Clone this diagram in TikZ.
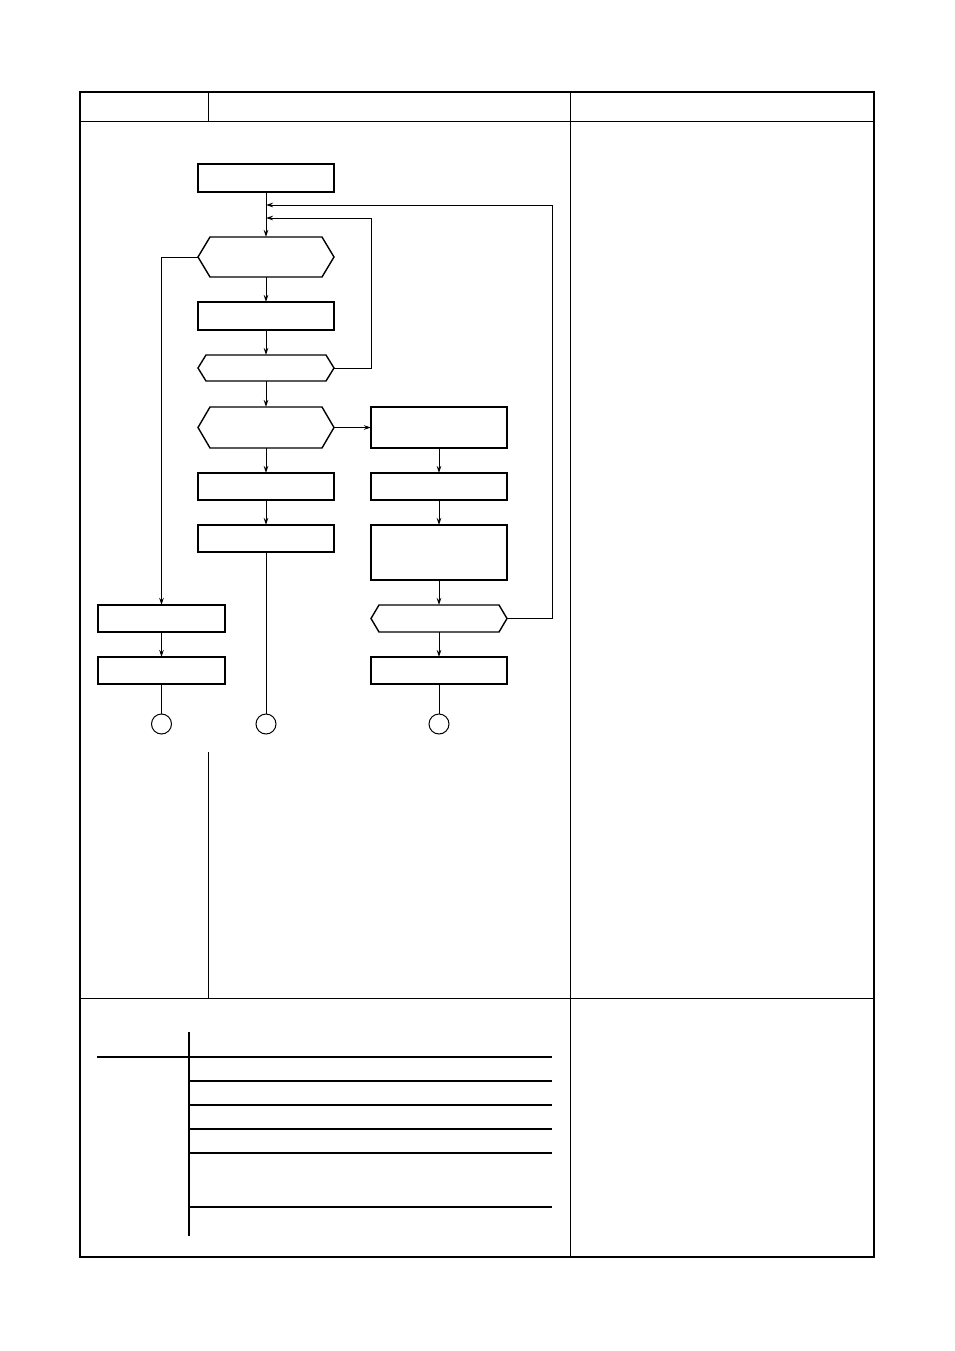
\documentclass[tikz,border=0pt]{standalone}
\usetikzlibrary{arrows.meta}
\tikzset{
  box/.style = {draw, line width=1.4pt, minimum width=136pt, minimum height=28pt, inner sep=0pt, outer sep=0pt},
  hexa/.style = {minimum width=136pt, minimum height=#1, inner sep=0pt, outer sep=0pt},
  term/.style = {draw, circle, line width=1pt, minimum size=20pt, inner sep=0pt},
  flow/.style = {line width=1pt, -{Stealth[length=7pt,width=4.5pt]}}
}
\newcommand{\hexline}[2]{\draw[line width=1.4pt] (#1.west) -- ([xshift=#2]#1.north west)
  -- ([xshift=-#2]#1.north east) -- (#1.east) -- ([xshift=-#2]#1.south east)
  -- ([xshift=#2]#1.south west) -- cycle;}
\begin{document}
\begin{tikzpicture}[x=1pt, y=-1pt]
\useasboundingbox (0,0) rectangle (954,1351);
% frame
\draw[line width=2.2pt] (80,92) rectangle (874,1257);
\draw[line width=1pt] (80,122) -- (874,122);
\draw[line width=1pt] (208,92) -- (208,122);
\draw[line width=1pt] (570,92) -- (570,1257);
\draw[line width=1pt] (80,998) -- (874,998);
\draw[line width=1pt] (208,752) -- (208,998);
% flow chart
\node[box] (start) at (266,178) {};
\node[hexa=40pt] (h1) at (266,257) {};
\node[box] (b2) at (266,316) {};
\node[hexa=26pt] (h2) at (266,368) {};
\node[hexa=41pt] (h3) at (266,427.5) {};
\node[box, minimum height=41pt] (r1) at (439,427.5) {};
\node[box, minimum height=27pt] (b3) at (266,486.5) {};
\node[box, minimum height=27pt] (b4) at (266,538.5) {};
\node[box, minimum height=27pt] (r2) at (439,486.5) {};
\node[box, minimum height=55pt] (r3) at (439,552.5) {};
\node[hexa=27pt] (h4) at (439,618.5) {};
\node[box, minimum height=27pt] (r4) at (439,670.5) {};
\node[box, minimum width=127pt, minimum height=27pt] (l1) at (161.5,618.5) {};
\node[box, minimum width=127pt, minimum height=27pt] (l2) at (161.5,670.5) {};
\node[term] (c1) at (161.5,724) {};
\node[term] (c2) at (266,724) {};
\node[term] (c3) at (439,724) {};
\hexline{h1}{12pt}
\hexline{h2}{8pt}
\hexline{h3}{12pt}
\hexline{h4}{8pt}
\coordinate (m1) at (266,205);
\coordinate (m2) at (266,218);
\coordinate (rail1) at (371,218);
\coordinate (rail2) at (552,205);
\draw[line width=1pt] (start) -- (m1);
\draw[flow] (m1) -- (h1);
\draw[flow] (h1) -- (b2);
\draw[flow] (b2) -- (h2);
\draw[flow] (h2) -- (h3);
\draw[flow] (h2.east) -| (rail1) -- (m2);
\draw[flow] (h3) -- (r1);
\draw[flow] (h3) -- (b3);
\draw[flow] (b3) -- (b4);
\draw[line width=1pt] (b4) -- (c2);
\draw[flow] (r1) -- (r2);
\draw[flow] (r2) -- (r3);
\draw[flow] (r3) -- (h4);
\draw[flow] (h4) -- (r4);
\draw[flow] (h4.east) -| (rail2) -- (m1);
\draw[line width=1pt] (r4) -- (c3);
\draw[flow] (h1.west) -| (l1.north);
\draw[flow] (l1) -- (l2);
\draw[line width=1pt] (l2) -- (c1);
% table
\draw[line width=2pt] (189,1032) -- (189,1236);
\draw[line width=2pt] (97,1056.5) -- (551.5,1056.5);
\foreach \y in {1081,1105,1129,1153,1207}
  \draw[line width=1.2pt] (189,\y) -- (551.5,\y);
\end{tikzpicture}
\end{document}
